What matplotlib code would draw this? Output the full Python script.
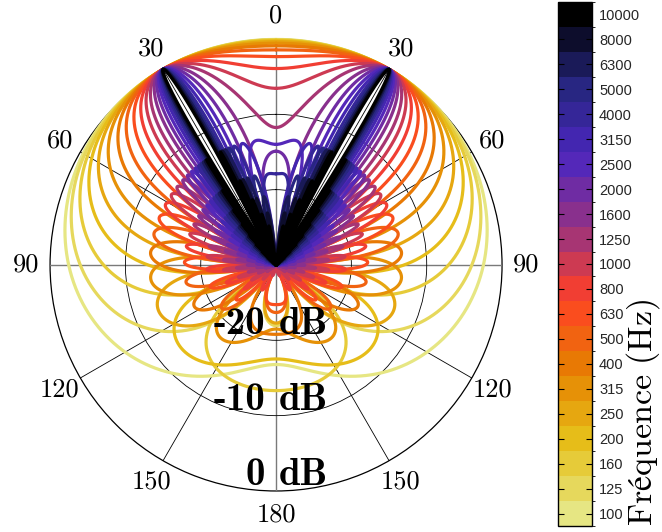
import numpy as np
import matplotlib
matplotlib.use("Agg")
import matplotlib.pyplot as plt
from matplotlib.colors import ListedColormap, BoundaryNorm
from matplotlib.cm import ScalarMappable

# Third-octave band centre frequencies (Hz)
freqs_hz = [100, 125, 160, 200, 250, 315, 400, 500, 630, 800, 1000,
            1250, 1600, 2000, 2500, 3150, 4000, 5000, 6300, 8000, 10000]
freq_labels = [str(f) for f in freqs_hz]

# Polar angle grid and labels (symmetric about the axis)
angle_ticks_deg = [0, 30, 60, 90, 120, 150, 180, 210, 240, 270, 300, 330]
angle_labels = ["0", "30", "60", "90", "120", "150", "180",
                "150", "120", "90", "60", "30"]

# Radial scale (dB)
ring_levels_db = [-20, -10, 0]
ring_numbers = ["-20", "-10", "0"]
ring_unit = "dB"
db_floor = -30.0

# Line source with a supersonic travelling wave
source_length_m = 1.6
sound_speed = 343.0
beam_angle_deg = 30.0

plt.rcParams["mathtext.fontset"] = "cm"

fig = plt.figure(figsize=(6.62, 5.32), dpi=100)
ax = fig.add_axes([0.0755, 0.0771, 0.683, 0.8496], projection="polar")
ax.set_theta_zero_location("N")
ax.set_theta_direction(-1)

cmap_full = plt.get_cmap("CMRmap")
colors = [cmap_full(v) for v in np.linspace(0.875, 0.0, len(freqs_hz))]

theta = np.linspace(0, 2 * np.pi, 24001)
cos_beam = np.cos(np.deg2rad(beam_angle_deg))
for f, col in zip(freqs_hz, colors):
    u = f * source_length_m / sound_speed * (np.cos(theta) - cos_beam)
    p = np.abs(np.sinc(u))
    level = 20 * np.log10(np.maximum(p, 1e-12))
    level = np.clip(level, db_floor, 0)
    ax.plot(theta, level, color=col, lw=2.3, solid_capstyle="round",
            clip_on=False, zorder=3)

ax.set_ylim(db_floor, 0)
ax.set_yticks(ring_levels_db[:-1])
ax.set_yticklabels([])
ax.set_xticks(np.deg2rad(angle_ticks_deg))
ax.set_xticklabels(angle_labels, fontfamily="cmr10", fontsize=19)
ax.set_xticks(np.deg2rad(np.arange(0, 360, 5)), minor=True)
ax.tick_params(axis="x", which="major", length=0, pad=10)
ax.tick_params(axis="x", which="minor", direction="in", length=6,
               width=0.8, color="black")
ax.tick_params(axis="y", length=0)

ax.grid(True, color="black", lw=0.6)
for i, gl in enumerate(ax.xaxis.get_gridlines()):
    if angle_ticks_deg[i] % 90 == 0:
        gl.set_color("#7a7a7a")
        gl.set_linewidth(1.0)
ax.spines["polar"].set_linewidth(0.9)
ax.spines["polar"].set_zorder(1)

# Radial level labels, sitting on their rings below the centre
for lvl, num in zip(ring_levels_db, ring_numbers):
    y = 0.5 - 0.5 * (lvl - db_floor) / (0 - db_floor) + 6 / 452
    ax.text(0.5 - 11 / 452, y, num, transform=ax.transAxes, ha="right",
            va="baseline", fontfamily="cmb10", fontsize=28, zorder=10)
    ax.text(0.5 + 3 / 452, y, ring_unit, transform=ax.transAxes, ha="left",
            va="baseline", fontfamily="cmb10", fontsize=28, zorder=10)

# Discrete colour bar, one band per frequency
cax = fig.add_axes([0.843, 0.0113, 0.0514, 0.985])
cmap = ListedColormap(colors)
norm = BoundaryNorm(np.arange(len(freqs_hz) + 1), len(freqs_hz))
cb = fig.colorbar(ScalarMappable(norm=norm, cmap=cmap), cax=cax,
                  ticks=np.arange(len(freqs_hz)) + 0.5)
cb.set_ticklabels(freq_labels)
cax.tick_params(direction="in", left=True, right=True, length=4,
                width=0.8, labelsize=10.5, labelcolor="#262626", pad=5)
for t in cax.get_yticklabels():
    t.set_fontfamily("Liberation Sans")
cb.outline.set_linewidth(1.0)
cb.set_label(r"$\mathrm{Fréquence\ (Hz)}$", fontsize=24.5, loc="bottom")
cax.yaxis.set_label_coords(1.93, 0.0)

fig.savefig("out.png", dpi=100)
